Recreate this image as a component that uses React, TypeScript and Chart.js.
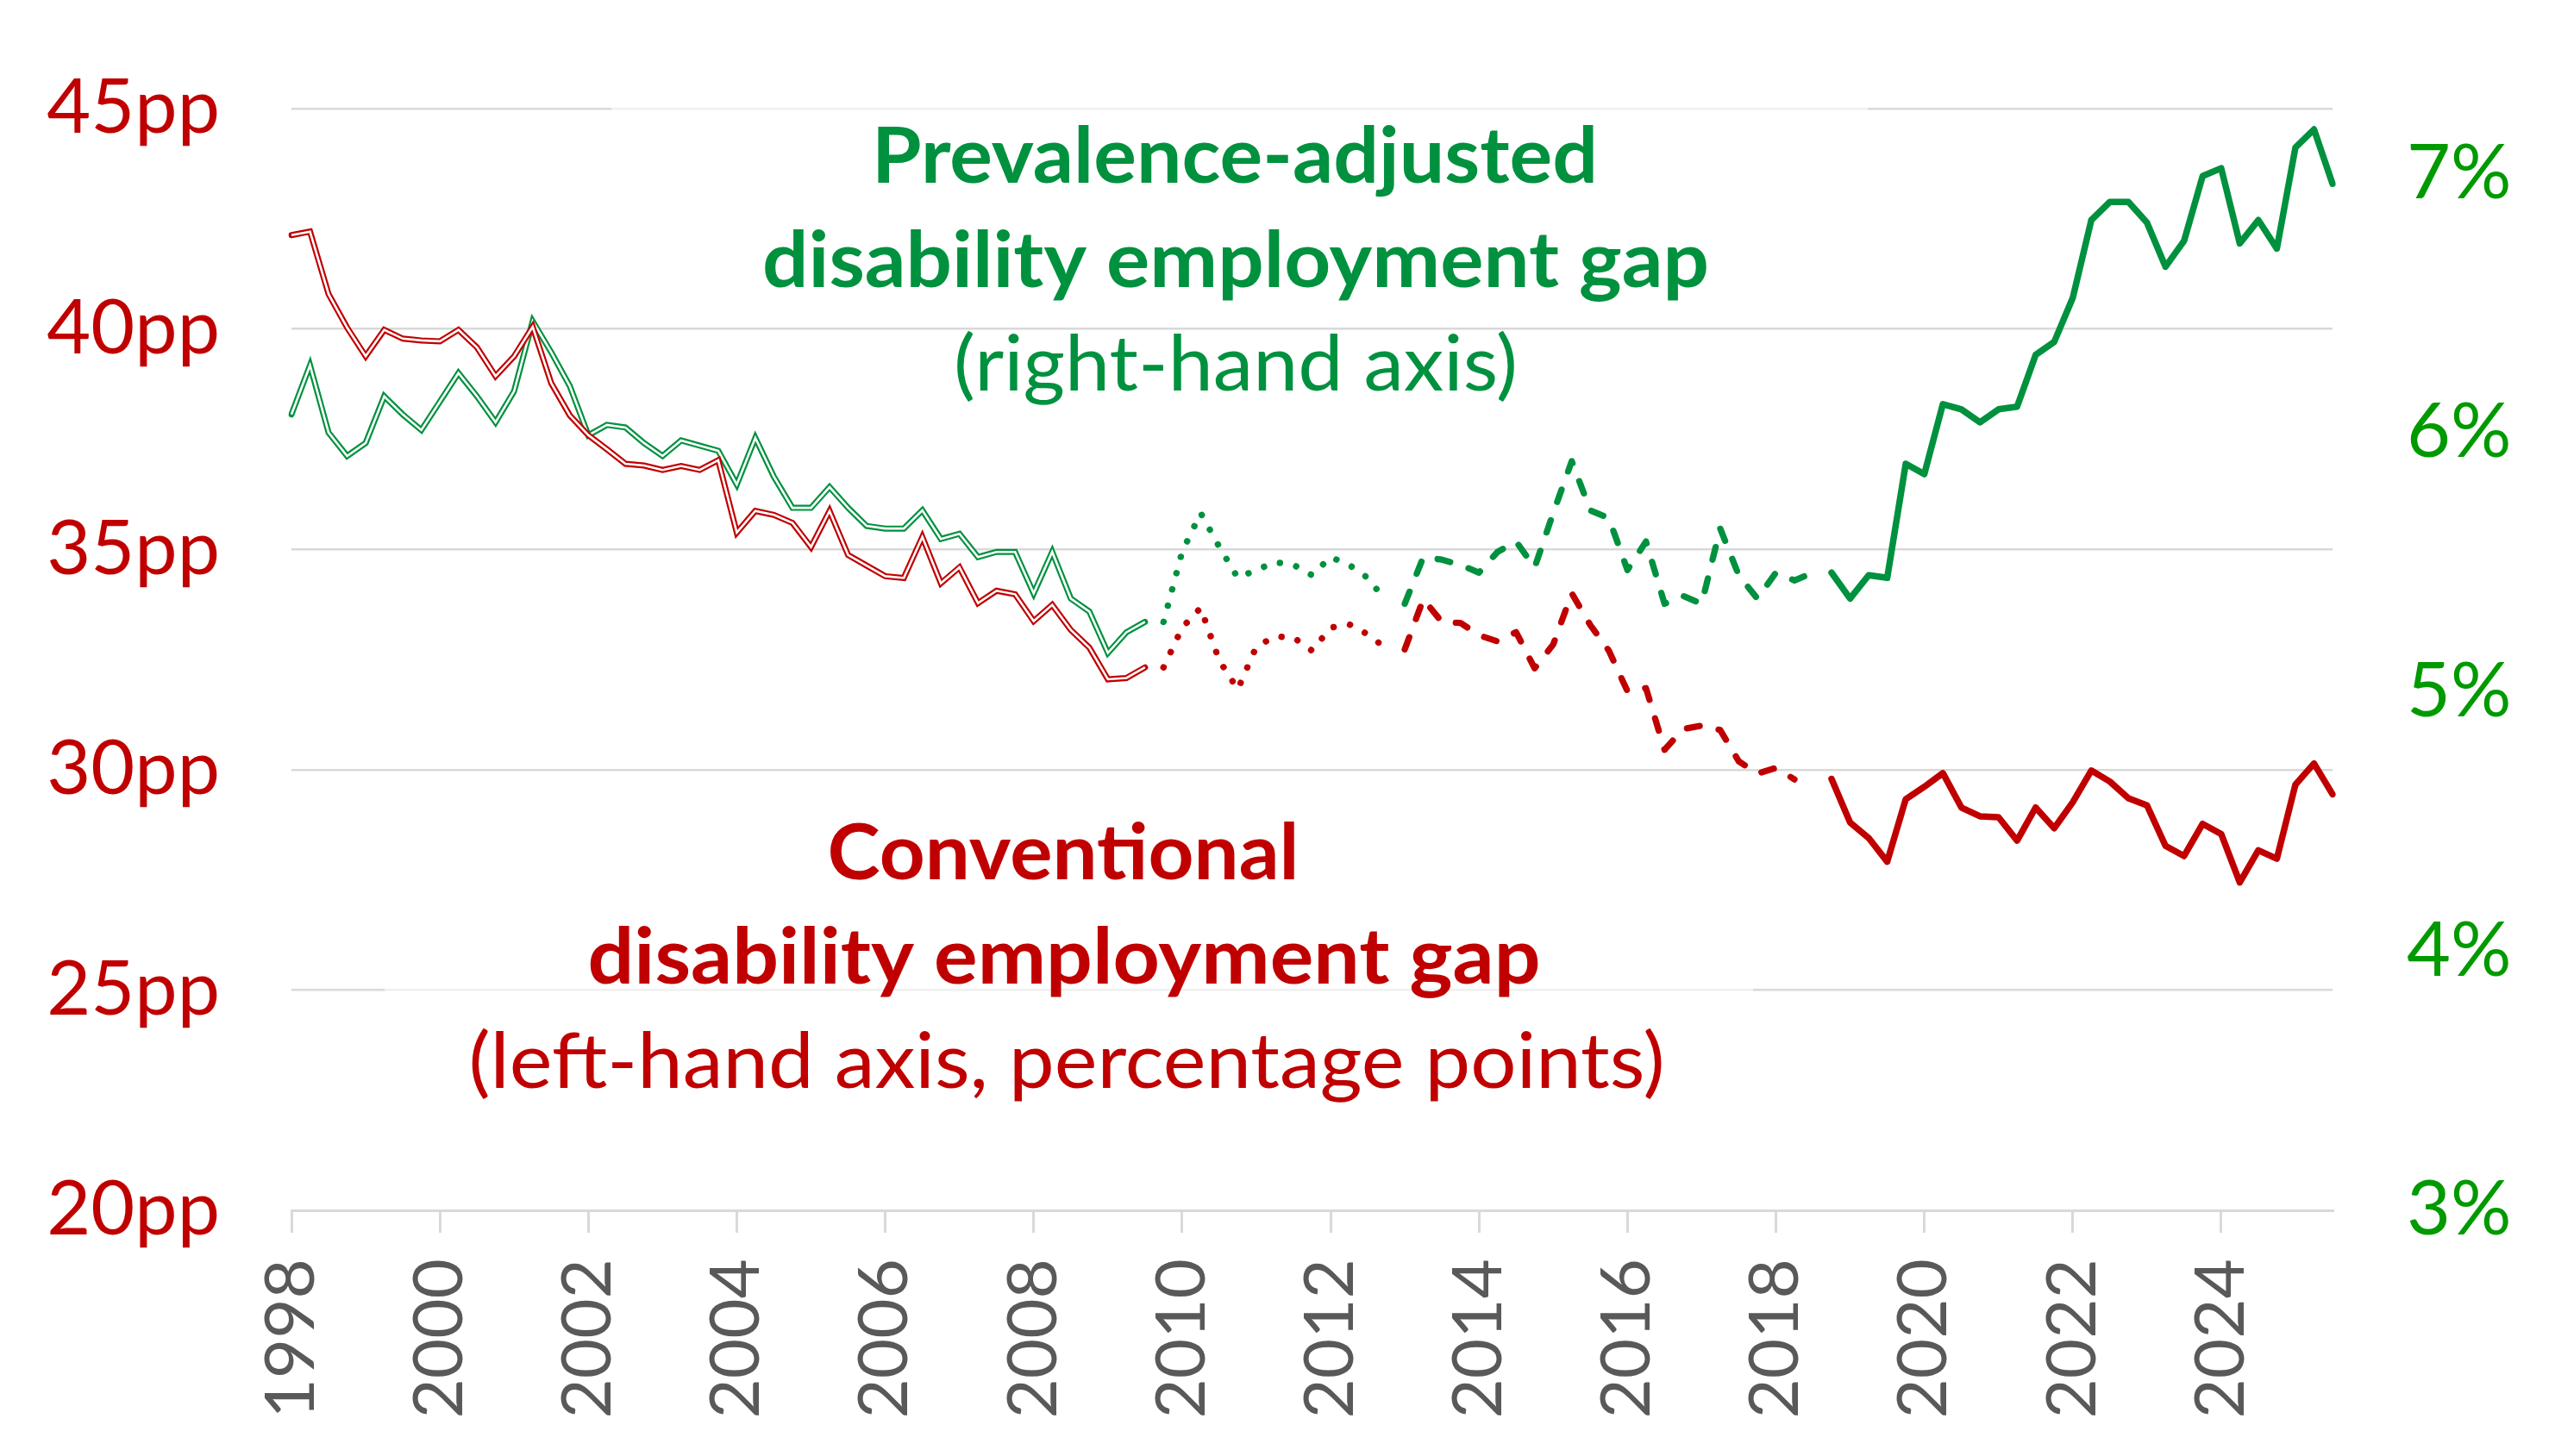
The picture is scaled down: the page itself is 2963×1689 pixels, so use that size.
import React, { useEffect, useRef } from 'react';
import { Chart, registerables } from 'chart.js';

Chart.register(...registerables);

// ---- categories ----
const YEARS = [1998, 1999, 2000, 2001, 2002, 2003, 2004, 2005, 2006, 2007, 2008, 2009, 2010, 2011,
  2012, 2013, 2014, 2015, 2016, 2017, 2018, 2019, 2020, 2021, 2022, 2023, 2024, 2025];
const QUARTERS = ['Q1', 'Q2', 'Q3', 'Q4'];
const LAST_QUARTER_2025 = 3;
const TICK_YEARS = ['1998', '2000', '2002', '2004', '2006', '2008', '2010', '2012', '2014', '2016',
  '2018', '2020', '2022', '2024'];

const LABELS: string[] = [];
YEARS.forEach((y) => QUARTERS.forEach((q, qi) => {
  if (y < 2025 || qi < LAST_QUARTER_2025) LABELS.push(`${y} ${q}`);
}));

// ---- series values ----
// Conventional disability employment gap (percentage points, left axis)
const CONVENTIONAL: (number | null)[] = [
  42.13, 42.21, 40.79, 40.03, 39.38, 39.98, 39.78, 39.74, 39.72, 39.98,
  39.58, 38.93, 39.38, 40.05, 38.77, 38.04, 37.59, 37.27, 36.94, 36.90,
  36.80, 36.89, 36.80, 37.02, 35.38, 35.87, 35.78, 35.60, 35.05, 35.87,
  34.87, 34.63, 34.39, 34.35, 35.28, 34.23, 34.59, 33.78, 34.06, 33.98,
  33.37, 33.74, 33.17, 32.77, 32.05, 32.08, 32.32, 32.32, 33.22, 33.67,
  32.48, 31.82, 32.79, 33.02, 33.00, 32.70, 33.22, 33.30, 33.07, 32.75,
  32.73, 33.87, 33.35, 33.33, 33.05, 32.91, 33.12, 32.30, 32.84, 34.00,
  33.28, 32.70, 31.78, 31.85, 30.45, 30.92, 31.00, 30.90, 30.19, 29.91,
  30.04, 29.78, null, 29.79, 28.80, 28.45, 27.91, 29.33, 29.61, 29.92,
  29.14, 28.94, 28.92, 28.39, 29.14, 28.67, 29.26, 29.98, 29.73, 29.35,
  29.19, 28.27, 28.04, 28.77, 28.54, 27.44, 28.17, 27.98, 29.66, 30.14,
  29.44,
];
// Prevalence-adjusted disability employment gap (%, right axis)
const PREVALENCE_ADJUSTED: (number | null)[] = [
  6.07, 6.26, 6.00, 5.91, 5.96, 6.14, 6.07, 6.01, 6.12, 6.23,
  6.14, 6.04, 6.16, 6.43, 6.31, 6.18, 5.99, 6.03, 6.02, 5.96,
  5.91, 5.97, 5.95, 5.93, 5.80, 5.98, 5.83, 5.71, 5.71, 5.79,
  5.71, 5.64, 5.63, 5.63, 5.70, 5.59, 5.61, 5.52, 5.54, 5.54,
  5.38, 5.54, 5.36, 5.31, 5.15, 5.23, 5.27, 5.27, 5.54, 5.69,
  5.56, 5.44, 5.47, 5.50, 5.49, 5.45, 5.52, 5.49, 5.44, 5.35,
  5.34, 5.52, 5.51, 5.49, 5.46, 5.54, 5.58, 5.48, 5.69, 5.89,
  5.70, 5.67, 5.47, 5.58, 5.34, 5.37, 5.34, 5.63, 5.45, 5.36,
  5.46, 5.43, 5.46, 5.46, 5.36, 5.45, 5.44, 5.88, 5.84, 6.11,
  6.09, 6.04, 6.09, 6.10, 6.30, 6.35, 6.52, 6.82, 6.89, 6.89,
  6.81, 6.64, 6.74, 6.99, 7.02, 6.73, 6.82, 6.71, 7.10, 7.17,
  6.96,
];

// survey-period segments (index ranges into the quarterly series)
const SEG_A = [0, 46];   // drawn as double line
const SEG_B = [47, 59];  // dotted
const SEG_C = [60, 82];  // dashed
const SEG_D = [83, 110]; // solid

const LEFT_TICKS = [20, 25, 30, 35, 40, 45];
const RIGHT_TICKS = [3, 4, 5, 6, 7];
const RIGHT_MAX = 7.25;

const RED = '#C00000';
const GREEN = '#00913F';
const GREEN_TICK = '#009A00';
const GREY_TEXT = '#595959';
const GRID = '#D9D9D9';
const FONT = 'Lato';

function seg(arr: (number | null)[], r: number[]) {
  return arr.map((v, i) => (i >= r[0] && i <= r[1] ? v : null));
}

const annotations = [
  { text: 'Prevalence-adjusted', cx: 1432, y: 212, w: 842, bold: true, color: GREEN },
  { text: 'disability employment gap', cx: 1433, y: 333, w: 1098, bold: true, color: GREEN },
  { text: '(right-hand axis)', cx: 1433, y: 453, w: 654, bold: false, color: GREEN },
  { text: 'Conventional', cx: 1233, y: 1020, w: 547, bold: true, color: RED },
  { text: 'disability employment gap', cx: 1234, y: 1141, w: 1105, bold: true, color: RED },
  { text: '(left-hand axis, percentage points)', cx: 1237, y: 1262, w: 1387, bold: false, color: RED },
];
const boxes = [
  { x: 709, y: 90, w: 1457, h: 280 },
  { x: 446, y: 905, w: 1587, h: 395 },
];

const annoPlugin = {
  id: 'anno',
  beforeDatasetsDraw(chart: any) {
    const ctx = chart.ctx;
    ctx.save();
    ctx.fillStyle = 'rgba(255,255,255,0.6)';
    boxes.forEach((b) => ctx.fillRect(b.x, b.y, b.w, b.h));
    ctx.restore();
  },
  afterDatasetsDraw(chart: any) {
    const ctx = chart.ctx;
    annotations.forEach((a) => {
      ctx.save();
      ctx.font = `${a.bold ? 'bold ' : ''}90px ${FONT}`;
      const m = ctx.measureText(a.text).width;
      ctx.translate(a.cx, a.y);
      ctx.scale(a.w / m, 1);
      ctx.textAlign = 'center';
      ctx.textBaseline = 'alphabetic';
      ctx.fillStyle = a.color;
      ctx.fillText(a.text, 0, 0);
      ctx.restore();
    });
  },
};

function isTickIndex(i: number) {
  const l = LABELS[i];
  if (!l) return false;
  const [y, q] = l.split(' ');
  return q === 'Q1' && TICK_YEARS.includes(y);
}

export default function App() {
  const ref = useRef<HTMLCanvasElement | null>(null);
  useEffect(() => {
    document.body.style.margin = '0';
    document.body.style.overflow = 'hidden';
    if (!ref.current) return;

    const base = { pointRadius: 0, tension: 0, spanGaps: false, fill: false };
    const mk = (data: (number | null)[], axis: string, color: string, width: number, extra: any, order: number) => ({
      ...base, data, yAxisID: axis, borderColor: color, borderWidth: width, order, ...extra,
    });

    const datasets: any[] = [];
    const series = [
      { arr: CONVENTIONAL, axis: 'yL', color: RED, o: 0 },
      { arr: PREVALENCE_ADJUSTED, axis: 'yR', color: GREEN, o: 10 },
    ];
    series.forEach((s) => {
      datasets.push(mk(seg(s.arr, SEG_A), s.axis, s.color, 7, { borderJoinStyle: 'miter', borderCapStyle: 'round' }, s.o + 2));
      datasets.push(mk(seg(s.arr, SEG_A), s.axis, '#FFFFFF', 2.6, { borderJoinStyle: 'miter', borderCapStyle: 'butt' }, s.o + 1));
      datasets.push(mk(seg(s.arr, SEG_B), s.axis, s.color, 7.5, { borderDash: [0.01, 19.5], borderCapStyle: 'round', borderJoinStyle: 'round' }, s.o + 3));
      datasets.push(mk(seg(s.arr, SEG_C), s.axis, s.color, 7.3, { borderDash: [15, 22.5], borderCapStyle: 'round', borderJoinStyle: 'round' }, s.o + 4));
      datasets.push(mk(seg(s.arr, SEG_D), s.axis, s.color, 7.5, { borderCapStyle: 'round', borderJoinStyle: 'round' }, s.o + 5));
    });

    const chart = new Chart(ref.current, {
      type: 'line',
      data: { labels: LABELS, datasets },
      plugins: [annoPlugin],
      options: {
        animation: false,
        responsive: false,
        devicePixelRatio: 1,
        layout: { padding: { top: 126, left: 0, right: 0, bottom: 0 } },
        plugins: { legend: { display: false }, tooltip: { enabled: false } },
        scales: {
          x: {
            type: 'category',
            offset: false,
            afterFit: (s: any) => { s.height = 285; },
            border: { display: true, color: GRID, width: 3 },
            grid: {
              drawOnChartArea: false,
              drawTicks: true,
              tickLength: 26,
              lineWidth: 3,
              color: (c: any) => (isTickIndex(c.index) ? GRID : 'rgba(0,0,0,0)'),
            },
            ticks: {
              autoSkip: false,
              minRotation: 90,
              maxRotation: 90,
              padding: 30,
              color: GREY_TEXT,
              font: { family: FONT, size: 80 },
              callback: (_v: any, i: number) => (isTickIndex(i) ? LABELS[i].split(' ')[0] : ''),
            },
          },
          yL: {
            type: 'linear',
            position: 'left',
            min: LEFT_TICKS[0],
            max: LEFT_TICKS[LEFT_TICKS.length - 1],
            afterFit: (s: any) => { s.width = 338; s.paddingTop = 0; s.paddingBottom = 0; },
            afterBuildTicks: (s: any) => { s.ticks = LEFT_TICKS.map((v) => ({ value: v })); },
            border: { display: false },
            grid: { color: GRID, lineWidth: 2.5, drawTicks: false },
            ticks: {
              padding: 83,
              color: RED,
              font: { family: FONT, size: 88 },
              callback: (v: any) => `${v}pp`,
            },
          },
          yR: {
            type: 'linear',
            position: 'right',
            min: RIGHT_TICKS[0],
            max: RIGHT_MAX,
            afterFit: (s: any) => { s.width = 258; s.paddingTop = 0; s.paddingBottom = 0; },
            afterBuildTicks: (s: any) => { s.ticks = RIGHT_TICKS.map((v) => ({ value: v })); },
            border: { display: false },
            grid: { display: false, drawTicks: false },
            ticks: {
              padding: 86,
              color: GREEN_TICK,
              font: { family: FONT, size: 88 },
              callback: (v: any) => `${v}%`,
            },
          },
        },
      } as any,
    });
    return () => chart.destroy();
  }, []);

  return (
    <div style={{ width: 2963, height: 1689, background: '#FFFFFF' }}>
      <canvas ref={ref} width={2963} height={1689} style={{ display: 'block', width: 2963, height: 1689 }} />
    </div>
  );
}
